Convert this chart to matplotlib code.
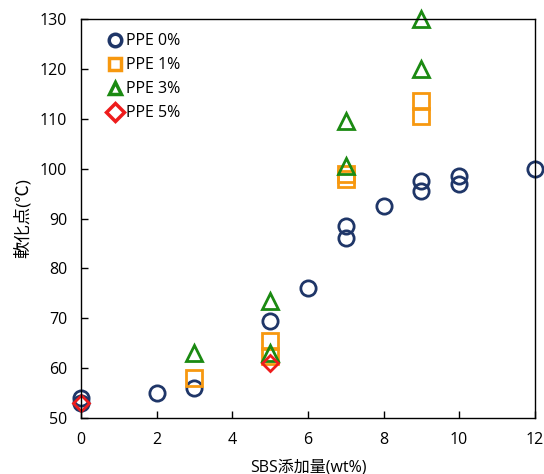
import matplotlib
matplotlib.use("Agg")
import matplotlib.pyplot as plt

plt.rcParams['font.family'] = ['Open Sans', 'Noto Sans CJK JP', 'DejaVu Sans']

# SBS content (wt%) and softening point (°C) per PPE level
ppe0_x = [0, 0, 2, 3, 5, 6, 7, 7, 8, 9, 9, 10, 10, 12]
ppe0_y = [53, 54, 55, 56, 69.5, 76, 88.5, 86, 92.5, 97.5, 95.5, 98.5, 97, 100]

ppe1_x = [3, 5, 5, 7, 7, 9, 9]
ppe1_y = [58, 65.5, 62.5, 99, 98, 113.5, 110.5]

ppe3_x = [3, 5, 5, 7, 7, 9, 9]
ppe3_y = [63, 73.5, 63, 109.5, 100.5, 130, 120]

ppe5_x = [0, 5]
ppe5_y = [53, 61]

labels = ['PPE 0%', 'PPE 1%', 'PPE 3%', 'PPE 5%']
x_ticks = [0, 2, 4, 6, 8, 10, 12]
y_ticks = [50, 60, 70, 80, 90, 100, 110, 120, 130]

fig = plt.figure(figsize=(5.44, 4.74), dpi=100)
ax = fig.add_axes([0.149, 0.118, 0.834, 0.842])

common = dict(linestyle='none', markerfacecolor='none', clip_on=False,
              markeredgewidth=2.0)
ax.plot(ppe0_x, ppe0_y, marker='o', markersize=11, color='#1f3668',
        label=labels[0], **common)
ax.plot(ppe1_x, ppe1_y, marker='s', markersize=11, color='#f7980f',
        label=labels[1], **common)
ax.plot(ppe3_x, ppe3_y, marker='^', markersize=11, color='#1b8a12',
        label=labels[2], **common)
ax.plot(ppe5_x, ppe5_y, marker='D', markersize=8, color='#ee1c1c',
        label=labels[3], **common)

ax.set_xlim(0, 12)
ax.set_ylim(50, 130)
ax.set_xticks(x_ticks)
ax.set_yticks(y_ticks)
ax.tick_params(direction='in', length=5, width=1, labelsize=11.5)
ax.tick_params(axis='x', pad=10)
ax.tick_params(axis='y', pad=10)
for s in ax.spines.values():
    s.set_linewidth(1.0)

ax.set_xlabel('SBS添加量(wt%)', fontsize=11.5, labelpad=8)
ax.set_ylabel('軟化点(℃)', fontsize=12.5, labelpad=6)

leg = ax.legend(loc='upper left', frameon=False, fontsize=11.5,
                handlelength=0.7, handletextpad=0.35, labelspacing=0.5,
                borderaxespad=0.5, bbox_to_anchor=(0.03, 1.0))
for h in leg.legend_handles:
    h.set_markeredgewidth(2.5)
    h.set_markersize(9)

fig.savefig('out.png', dpi=100)
